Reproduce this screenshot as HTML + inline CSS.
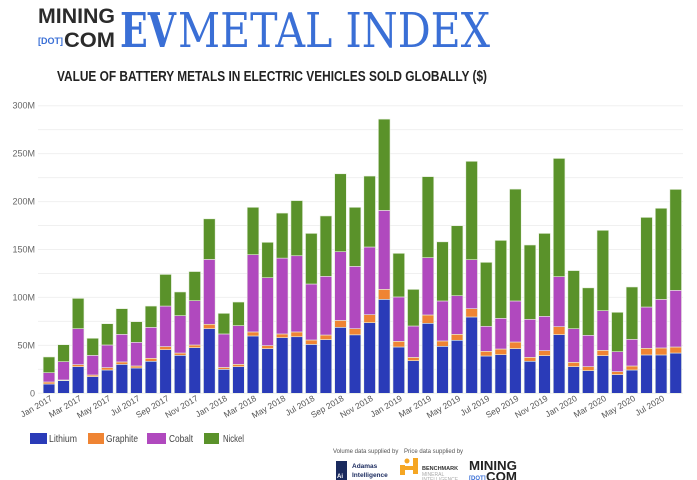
<!DOCTYPE html>
<html><head><meta charset="utf-8"><style>
html,body{margin:0;padding:0;background:#fff;}
svg{display:block;font-family:"Liberation Sans",sans-serif;}
</style></head><body>
<svg id="chart" width="697" height="480" viewBox="0 0 697 480">
<g>
<text x="38" y="23" font-size="21" font-weight="bold" fill="#2b2b2b" textLength="77" lengthAdjust="spacingAndGlyphs">MINING</text>
<text x="38" y="44" font-size="9" font-weight="bold" fill="#3a6fd6" textLength="25" lengthAdjust="spacingAndGlyphs">[DOT]</text>
<text x="64" y="47" font-size="21" font-weight="bold" fill="#2b2b2b" textLength="51" lengthAdjust="spacingAndGlyphs">COM</text>
</g>
<text x="120" y="47" font-family="'DejaVu Serif','Liberation Serif',serif" font-size="48" font-weight="bold" fill="#3a6fd6" textLength="56" lengthAdjust="spacingAndGlyphs">EV</text>
<text x="178" y="47" font-family="'DejaVu Serif','Liberation Serif',serif" font-size="48" fill="#3a6fd6" textLength="312" lengthAdjust="spacingAndGlyphs">METAL INDEX</text>
<text x="57" y="81" font-size="14.5" font-weight="bold" fill="#222" textLength="430" lengthAdjust="spacingAndGlyphs">VALUE OF BATTERY METALS IN ELECTRIC VEHICLES SOLD GLOBALLY ($)</text>
<g id="grid"></g><g id="yaxis"></g><g id="bars"></g><g id="xaxis"></g>
<g font-size="10.5" fill="#444">
<rect x="30" y="433" width="17" height="11" fill="#2a3bb8"/><text x="49" y="442" textLength="28" lengthAdjust="spacingAndGlyphs">Lithium</text>
<rect x="88" y="433" width="16" height="11" fill="#ef8433"/><text x="106" y="442" textLength="32" lengthAdjust="spacingAndGlyphs">Graphite</text>
<rect x="147" y="433" width="19" height="11" fill="#b049be"/><text x="169" y="442" textLength="24" lengthAdjust="spacingAndGlyphs">Cobalt</text>
<rect x="204" y="433" width="15" height="11" fill="#5a922a"/><text x="223" y="442" textLength="21" lengthAdjust="spacingAndGlyphs">Nickel</text>
</g>
<g>
<text x="333" y="453" font-size="6" fill="#555">Volume data supplied by</text>
<text x="404" y="453" font-size="6" fill="#555">Price data supplied by</text>
<rect x="336" y="461" width="11" height="21" fill="#1a2a5e"/>
<text x="337" y="478" font-size="6" font-weight="bold" fill="#fff">Ai</text>
<text x="352" y="468" font-size="6.5" font-weight="bold" fill="#1a2a5e">Adamas</text>
<text x="352" y="477" font-size="6.5" font-weight="bold" fill="#1a2a5e">Intelligence</text>
<g fill="#f5a623">
<rect x="400" y="465" width="5" height="10"/><rect x="413" y="458" width="5" height="16"/><rect x="404" y="466" width="10" height="4"/><circle cx="407" cy="461" r="2.5"/>
</g>
<text x="422" y="470" font-size="5.5" font-weight="bold" fill="#333">BENCHMARK</text>
<text x="422" y="476" font-size="5" fill="#aaa">MINERAL</text>
<text x="422" y="481" font-size="5" fill="#aaa">INTELLIGENCE</text>
<text x="469" y="470" font-size="13" font-weight="bold" fill="#222" textLength="48" lengthAdjust="spacingAndGlyphs">MINING</text>
<text x="469" y="480" font-size="6" font-weight="bold" fill="#3a6fd6">[DOT]</text>
<text x="486" y="481" font-size="13" font-weight="bold" fill="#222" textLength="31" lengthAdjust="spacingAndGlyphs">COM</text>
</g>
</svg>
<script>
const months = ["Jan","Feb","Mar","Apr","May","Jun","Jul","Aug","Sep","Oct","Nov","Dec"];
const categories = [];
for (let y = 2017; y <= 2020; y++) for (let m = 0; m < 12; m++) if (categories.length < 44) categories.push(months[m] + " " + y);
const lithium = [9.7,13.2,27.8,17.4,24.3,30.2,26.4,33.4,45.5,39.6,47.6,67.4,25,27.8,59.8,46.6,58,59,51,56,68.8,61,73.7,98,48.3,34,73,49,55.3,79.6,38.9,40.3,46.6,33.4,39.3,61.2,27.8,23.6,39.3,19.5,24.3,40,40,42];
const graphite = [2.1,0.7,2.1,1.7,2.5,2.5,2.1,3.1,3.2,2.4,2.8,4.6,2,2.4,4.2,3.1,3.9,5,4.6,4.8,7.2,6.4,8.3,10.4,5.9,3.5,8.7,5.6,6.2,8.7,4.9,5.9,6.9,4.1,5.2,8.3,4.5,4.2,5.5,3.1,4.2,6.9,7.3,6.3];
const cobalt = [9.7,19.1,37.5,20.5,23.6,28.8,24.7,32.3,42.3,39,46.2,67.7,34.9,40.4,80.6,70.9,79.1,79.5,58.4,61.2,71.7,65,70.6,82.4,46.3,32.7,59.8,41.7,40.3,51.1,26.1,32,42.8,39.7,35.8,52.2,35.1,32.7,41.4,20.8,27.8,43.1,50.7,59.1];
const nickel = [16.4,17.7,31.6,17.8,22.2,26.8,21.5,22.2,33,24.7,30.4,42.3,21.5,24.6,49.4,36.9,47,57.5,52.8,63,81.3,61.6,74,95.2,45.5,38.2,84.5,61.7,73,102.6,66.7,81.3,116.7,77.5,86.5,123.3,60.6,49.5,83.8,41.1,54.6,93.5,95,105.3];
const yTicks = [0,50,100,150,200,250,300];
const yTickLabels = ["0","50M","100M","150M","200M","250M","300M"];

const NS = "http://www.w3.org/2000/svg";
const X0 = 41.7, X1 = 683, Y0 = 393.3, YTOP = 105.7, YMAX = 300;
const pitch = (X1 - X0) / categories.length, bw = pitch * 0.8;
const xs = i => X0 + i * pitch + (pitch - bw) / 2;
const ys = v => Y0 - v / YMAX * (Y0 - YTOP);
function mk(tag, attrs, parent) {
  const e = document.createElementNS(NS, tag);
  for (const k in attrs) e.setAttribute(k, attrs[k]);
  parent.appendChild(e); return e;
}
const grid = document.getElementById("grid"), yaxis = document.getElementById("yaxis");
for (let v = 0; v <= 300; v += 25) {
  const l = mk("line", {x1: 38, x2: X1, y1: ys(v), y2: ys(v), stroke: "#f0f0f0", "stroke-width": 1}, grid);
  
  
}
yTicks.forEach((v, i) => {
  const t = mk("text", {x: 35, y: ys(v) + 3, "text-anchor": "end", "font-size": 9, fill: "#666"}, yaxis);
  
  
  t.textContent = yTickLabels[i];
});
const series = [["lithium", lithium, "#2a3bb8"], ["graphite", graphite, "#ef8433"], ["cobalt", cobalt, "#b049be"], ["nickel", nickel, "#5a922a"]];
const bars = document.getElementById("bars");
categories.forEach((c, i) => {
  let base = 0;
  series.forEach(([name, arr, col]) => {
    const v = arr[i];
    const r = mk("rect", {x: xs(i), y: ys(base + v), width: bw, height: ys(base) - ys(base + v), fill: col, stroke: "#e8f0e0", "stroke-width": 0.6}, bars);
    
    
    base += v;
  });
});
const xaxis = document.getElementById("xaxis");
categories.forEach((c, i) => {
  if (i % 2) return;
  const cx = xs(i) + bw / 2 + 4, cy = 400;
  const t = mk("text", {x: cx, y: cy, "text-anchor": "end", "font-size": 8.5, fill: "#555", transform: `rotate(-30 ${cx} ${cy})`}, xaxis);
  
  
  t.textContent = c;
});
</script>
</body></html>
